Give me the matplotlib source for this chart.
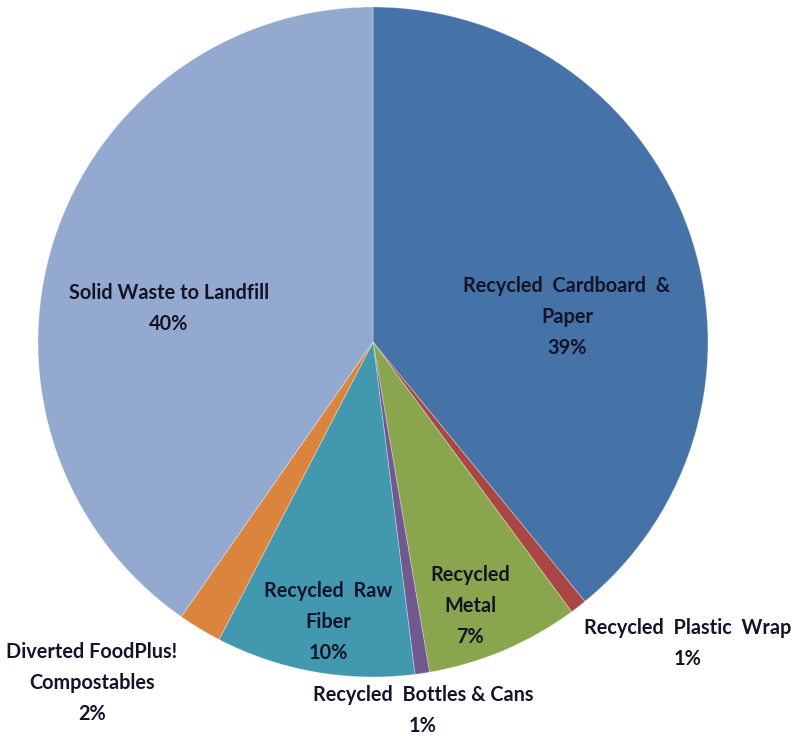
import matplotlib
matplotlib.use("Agg")
import matplotlib.pyplot as plt

categories = [
    "Recycled  Cardboard  &\nPaper",
    "Recycled  Plastic  Wrap",
    "Recycled\nMetal",
    "Recycled  Bottles & Cans",
    "Recycled  Raw\nFiber",
    "Diverted FoodPlus!\nCompostables",
    "Solid Waste to Landfill",
]
shares = [39.1, 0.8, 7.4, 0.7, 9.6, 2.1, 40.3]
colors = ["#4572A7", "#AA4643", "#89A54E", "#71588F", "#4198AF", "#DB843D", "#93A9CF"]

# label block centres, in pie-radius units relative to the centre
label_pos = [
    (0.579, 0.075),
    (0.94, -0.90),
    (0.29, -0.788),
    (0.149, -1.10),
    (-0.134, -0.836),
    (-0.839, -1.018),
    (-0.609, 0.10),
]

plt.rcParams['font.family'] = ['Lato', 'DejaVu Sans']

W, H = 798, 736
cx, cy, R = 373, 342, 335
fig = plt.figure(figsize=(W / 100, H / 100), dpi=100)
ax = fig.add_axes([0, 0, 1, 1])

wedges, _ = ax.pie(shares, colors=colors, startangle=90, counterclock=False,
                   wedgeprops=dict(linewidth=0.6, edgecolor=(1, 1, 1, 0.35)))

for name, v, (lx, ly) in zip(categories, shares, label_pos):
    ax.text(lx, ly, f"{name}\n{round(v)}%", ha="center", va="center",
            fontsize=14.3, fontweight="bold", color="#141428", linespacing=1.68)

ax.set_xlim((0 - cx) / R, (W - cx) / R)
ax.set_ylim((cy - H) / R, cy / R)
ax.set_aspect("auto")
ax.axis("off")
fig.savefig("out.png", dpi=100, facecolor="white")
